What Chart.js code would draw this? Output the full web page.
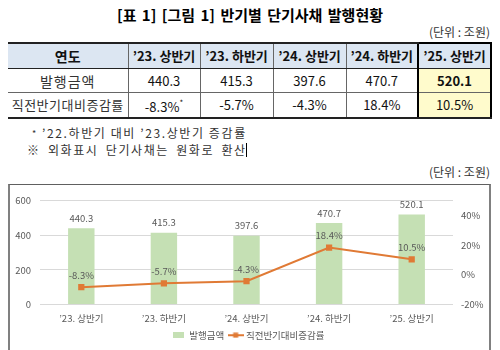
<!DOCTYPE html>
<html><head><meta charset="utf-8">
<script src="https://cdn.jsdelivr.net/npm/chart.js@4"></script>
<style>
html,body{margin:0;padding:0;background:#fff;width:500px;height:350px;overflow:hidden;font-family:"Noto Sans CJK KR","Noto Sans",sans-serif;color:#000}
.abs{position:absolute;white-space:nowrap}
#title{left:0;width:500px;top:5px;text-align:center;font-size:15px;font-weight:bold;line-height:20px;word-spacing:2px}
.unit{right:10px;font-size:12px;line-height:16px;color:#333}
table{position:absolute;left:8px;top:42px;border-collapse:collapse;table-layout:fixed;width:483px}
td{text-align:center;padding:0;font-size:13px;line-height:16px;color:#111}
td+td{border-left:1px solid #666}
tr.h td{background:#DCE6F2;font-weight:bold;height:24px;border-top:2px solid #222;border-bottom:1px solid #222}
tr.h td:first-child{font-size:14px}
tr.r1 td{height:23px;border-bottom:1px solid #666}
tr.r2 td{height:24px;border-bottom:2px solid #222}
tr.r1 td:first-child{font-size:14px;letter-spacing:1px;color:#333}
tr.r2 td:first-child{font-size:13px;letter-spacing:0.5px;color:#333}
td.hl{background:#FFFBCC;border-left:2px solid #000;border-right:2px solid #000}
tr.h td.hl{border-top:2px solid #000}
td.b{font-weight:bold}
sup{font-size:8px;vertical-align:6px}
.note{font-size:12px;line-height:16px;letter-spacing:1.6px;color:#333}
#box{position:absolute;left:8px;top:184px;width:479px;height:180px;border-top:1px solid #606060;border-left:2px solid #808080;border-right:2px solid #808080}
#c{position:absolute;left:10px;top:186px}
</style></head>
<body>
<div id="title" class="abs">[표 1] [그림 1] 반기별 단기사채 발행현황</div>
<div class="abs unit" style="top:24px">(단위 : 조원)</div>
<table id="tbl">
<colgroup><col style="width:120px"><col style="width:72px"><col style="width:73px"><col style="width:73px"><col style="width:72px"><col style="width:73px"></colgroup>
</table>
<div class="abs note" style="left:32px;top:125px"><span style="font-size:9px;vertical-align:1px">*</span> ’22.하반기 대비 ’23.상반기 증감률</div>
<div class="abs note" style="left:27px;top:142px;word-spacing:3px">※ 외화표시 단기사채는 원화로 환산<span style="display:inline-block;width:0;height:14px;border-left:1.5px solid #000;vertical-align:-2px;margin-left:-1px"></span></div>
<div class="abs unit" style="top:164px">(단위 : 조원)</div>
<div id="box"></div>
<canvas id="c" width="478" height="164"></canvas>
<script>
const categories = ['’23. 상반기', '’23. 하반기', '’24. 상반기', '’24. 하반기', '’25. 상반기'];
const amounts = [440.3, 415.3, 397.6, 470.7, 520.1];
const rates = [-8.3, -5.7, -4.3, 18.4, 10.5];
const leftTicks = [0, 200, 400, 600];
const rightTicks = [-20, 0, 20, 40];
const seriesNames = ['발행금액', '직전반기대비증감률'];

// build table from data
(function(){
  const t = document.getElementById('tbl');
  const last = categories.length - 1;
  function row(cls, first, cells, boldLast){
    const tr = document.createElement('tr'); tr.className = cls;
    const td0 = document.createElement('td'); td0.textContent = first; tr.appendChild(td0);
    cells.forEach((c, i) => {
      const td = document.createElement('td');
      td.innerHTML = c;
      if (i === last) { td.className = 'hl' + (boldLast ? ' b' : ''); }
      tr.appendChild(td);
    });
    t.appendChild(tr);
  }
  row('h', '연도', categories, false);
  row('r1', seriesNames[0], amounts.map(v => v.toFixed(1)), true);
  row('r2', '직전반기대비증감률', rates.map((v, i) => v.toFixed(1) + '%' + (i === 0 ? '<sup>*</sup>' : '')), false);
})();

const barColor = '#C5E0B4', lineColor = '#E07A35', txt = '#595959';
const FS = 9.5;
function makeIcon(w, h, draw){ const c = document.createElement('canvas'); c.width = w; c.height = h; draw(c.getContext('2d')); return c; }
const barIcon = makeIcon(11, 6, ctx => { ctx.fillStyle = barColor; ctx.fillRect(0, 0, 11, 6); });
const lineIcon = makeIcon(16, 6, ctx => { ctx.strokeStyle = lineColor; ctx.lineWidth = 2; ctx.beginPath(); ctx.moveTo(0, 3); ctx.lineTo(16, 3); ctx.stroke(); ctx.fillStyle = lineColor; ctx.fillRect(5.5, 0.5, 5, 5); });

const labelPlugin = {
  id: 'vlabels',
  afterDatasetsDraw(chart){
    const ctx = chart.ctx; ctx.save();
    ctx.font = FS + 'px "Noto Sans CJK KR"'; ctx.fillStyle = txt; ctx.textAlign = 'center'; ctx.textBaseline = 'middle';
    chart.getDatasetMeta(1).data.forEach((el, i) => ctx.fillText(amounts[i].toFixed(1), el.x, el.y - 10));
    chart.getDatasetMeta(0).data.forEach((el, i) => ctx.fillText(rates[i].toFixed(1) + '%', el.x, el.y - 12));
    ctx.restore();
  }
};

Chart.defaults.font.family = '"Noto Sans CJK KR", "Noto Sans", sans-serif';
Chart.defaults.font.size = FS;
Chart.defaults.color = txt;

new Chart(document.getElementById('c'), {
  data: {
    labels: categories,
    datasets: [
      { type: 'line', label: seriesNames[1], data: rates, yAxisID: 'y1', borderColor: lineColor, backgroundColor: lineColor, borderWidth: 2, pointStyle: 'rect', pointRadius: 3, pointBackgroundColor: lineColor, pointBorderColor: lineColor, tension: 0 },
      { type: 'bar', label: seriesNames[0], data: amounts, yAxisID: 'y', backgroundColor: barColor, categoryPercentage: 1, barPercentage: 0.32 }
    ]
  },
  options: {
    responsive: false, animation: false, devicePixelRatio: 1,
    layout: { padding: { top: 9, left: 0, right: 0, bottom: 0 } },
    scales: {
      x: { grid: { display: false, drawTicks: false }, border: { display: false }, ticks: { padding: 8 }, afterFit(s){ s.height = 20; } },
      y: { position: 'left', min: 0, max: 600, grid: { color: '#D9D9D9', drawTicks: false }, border: { display: false },
           ticks: { padding: 9 }, afterBuildTicks(s){ s.ticks = leftTicks.map(v => ({ value: v })); }, afterFit(s){ s.width = 30; } },
      y1: { position: 'right', min: -20, max: 50, grid: { display: false, drawTicks: false }, border: { display: false },
           ticks: { padding: 8, callback: v => v + '%' }, afterBuildTicks(s){ s.ticks = rightTicks.map(v => ({ value: v })); }, afterFit(s){ s.width = 35; } }
    },
    plugins: {
      tooltip: { enabled: false },
      legend: {
        position: 'bottom',
        labels: {
          usePointStyle: true, pointStyleWidth: 11, padding: 6, color: txt, font: { size: FS },
          generateLabels(){
            return [
              { text: seriesNames[0], pointStyle: barIcon, fillStyle: barColor, strokeStyle: barColor, lineWidth: 0, hidden: false, datasetIndex: 1, fontColor: txt },
              { text: seriesNames[1], pointStyle: lineIcon, fillStyle: lineColor, strokeStyle: lineColor, lineWidth: 0, hidden: false, datasetIndex: 0, fontColor: txt }
            ];
          }
        }
      }
    }
  },
  plugins: [labelPlugin]
});
</script>
</body></html>
